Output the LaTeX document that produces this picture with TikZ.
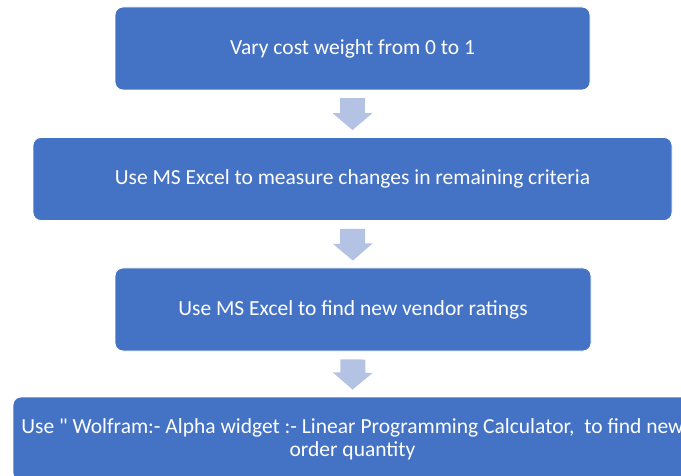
\documentclass[tikz,border=0pt]{standalone}
\usepackage{fontspec}
\setmainfont{Carlito}
\usepackage{xcolor}
\usetikzlibrary{arrows.meta,positioning}

\definecolor{boxblue}{HTML}{4472C4}
\definecolor{arrowblue}{HTML}{B4C3E4}

\tikzset{
  stepbox/.style={rectangle, rounded corners=8pt, fill=boxblue, draw=white, line width=0.8pt,
    text=white, align=center, inner sep=0pt, minimum height=83pt, font=\fontsize{21.5}{23}\selectfont},
  flowarrow/.style={draw=arrowblue, line width=25pt, -{Triangle[width=39pt,length=17pt]},
    shorten <=8pt, shorten >=7pt}
}

\begin{document}
\begin{tikzpicture}[x=1pt, y=-1pt]
				\useasboundingbox (0,0) rectangle (681,476);
				\node[stepbox, minimum width=475pt] (vary) at (352.5,48.5) {Vary cost weight from 0 to 1};
				\node[stepbox, minimum width=639pt] (measure) at (352.5,179) {Use MS Excel to measure changes in remaining criteria};
				\node[stepbox, minimum width=476pt] (ratings) at (353,309.5) {Use MS Excel to find new vendor ratings};
				\node[stepbox, minimum width=679pt, minimum height=84pt] (wolfram) at (352.5,439) {Use \textquotedbl{} Wolfram:- Alpha widget :- Linear Programming Calculator,\ \ to find new\\order quantity};
				
				\draw[flowarrow] (vary.south) -- (measure.north);
				\draw[flowarrow] (measure.south) -- (ratings.north);
				\draw[flowarrow] (ratings.south) -- (wolfram.north);
			\end{tikzpicture}
\end{document}
